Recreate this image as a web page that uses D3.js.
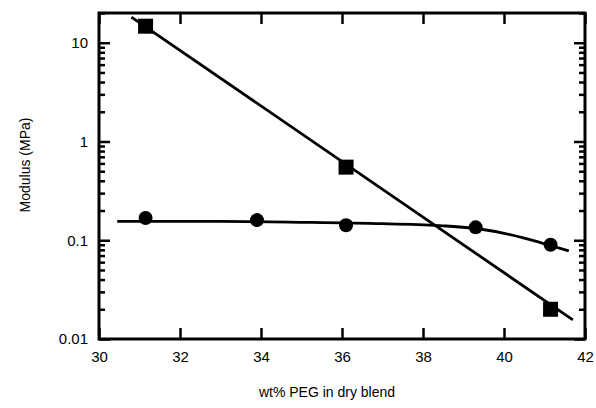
<!DOCTYPE html>
<html>
<head>
<meta charset="utf-8">
<script src="https://cdn.jsdelivr.net/npm/d3@7"></script>
<style>
  body { margin: 0; background: #fff; }
  text { font-family: "Liberation Sans", Arial, sans-serif; fill: #000; }
</style>
</head>
<body>
<div id="chart"></div>
<script>
// measured points
var squareX = [31.15, 36.1, 41.15];
var squareY = [14.7, 0.55, 0.02];
var circleX = [31.15, 33.9, 36.1, 39.3, 41.15];
var circleY = [0.168, 0.16, 0.142, 0.135, 0.09];

// fitted lines as drawn in the figure
var squareFitX = [30.8, 41.7];
var squareFitY = [18.2, 0.0156];
var circleFitX = [30.45, 33, 35, 37, 38.5, 39.4, 41.6];
var circleFitY = [0.155, 0.155, 0.152, 0.147, 0.14, 0.13, 0.078];

var xTicks = [30, 32, 34, 36, 38, 40, 42];
var yTicks = [0.01, 0.1, 1, 10];
var yTickLabels = ['0.01', '0.1', '1', '10'];

var width = 596, height = 408;
var margin = {top: 13, right: 11, bottom: 69, left: 99};
var w = width - margin.left - margin.right;
var h = height - margin.top - margin.bottom;

var svg = d3.select('#chart').append('svg')
    .attr('width', width).attr('height', height);
var g = svg.append('g')
    .attr('transform', 'translate(' + margin.left + ',' + margin.top + ')');

var x = d3.scaleLinear().domain([30, 42]).range([0, w]);
var y = d3.scaleLog().domain([0.01, 20]).range([h, 0]);

// minor log ticks
var minor = [];
[0.01, 0.1, 1, 10].forEach(function (d) {
    for (var k = 2; k <= 9; k++) {
        if (d * k <= 20) minor.push(d * k);
    }
});

function styleAxis(ag) {
    ag.select('.domain').remove();
    ag.selectAll('line').attr('stroke', '#000').attr('stroke-width', 2.5);
    ag.selectAll('text')
        .style('font-size', '15px')
        .style('font-family', '"Liberation Sans", Arial, sans-serif')
        .attr('fill', '#000');
}

// major ticks, pointing inward on all four sides
styleAxis(g.append('g').attr('transform', 'translate(0,' + h + ')')
    .call(d3.axisBottom(x).tickValues(xTicks).tickFormat(d3.format('d'))
        .tickSizeInner(-11).tickSizeOuter(0).tickPadding(12)));
styleAxis(g.append('g')
    .call(d3.axisTop(x).tickValues(xTicks).tickFormat('')
        .tickSizeInner(-11).tickSizeOuter(0)));
styleAxis(g.append('g')
    .call(d3.axisLeft(y).tickValues(yTicks).tickFormat(function (d, i) { return yTickLabels[i]; })
        .tickSizeInner(-11).tickSizeOuter(0).tickPadding(11)));
styleAxis(g.append('g').attr('transform', 'translate(' + w + ',0)')
    .call(d3.axisRight(y).tickValues(yTicks).tickFormat('')
        .tickSizeInner(-11).tickSizeOuter(0)));

// minor ticks on left and right
styleAxis(g.append('g')
    .call(d3.axisLeft(y).tickValues(minor).tickFormat('').tickSizeInner(-6).tickSizeOuter(0)));
styleAxis(g.append('g').attr('transform', 'translate(' + w + ',0)')
    .call(d3.axisRight(y).tickValues(minor).tickFormat('').tickSizeInner(-6).tickSizeOuter(0)));

// frame
g.append('rect')
    .attr('width', w).attr('height', h)
    .attr('fill', 'none').attr('stroke', '#000').attr('stroke-width', 3);

// fit lines
var line = d3.line().x(function (d) { return x(d[0]); }).y(function (d) { return y(d[1]); });
g.append('path')
    .datum(squareFitX.map(function (d, i) { return [d, squareFitY[i]]; }))
    .attr('d', line)
    .attr('fill', 'none').attr('stroke', '#000').attr('stroke-width', 2.8);
g.append('path')
    .datum(circleFitX.map(function (d, i) { return [d, circleFitY[i]]; }))
    .attr('d', line.curve(d3.curveMonotoneX))
    .attr('fill', 'none').attr('stroke', '#000').attr('stroke-width', 2.8);

// markers
var sq = 15;
g.selectAll('rect.sq')
    .data(squareX.map(function (d, i) { return [d, squareY[i]]; }))
    .enter().append('rect')
    .attr('class', 'sq')
    .attr('x', function (d) { return x(d[0]) - sq / 2; })
    .attr('y', function (d) { return y(d[1]) - sq / 2; })
    .attr('width', sq).attr('height', sq)
    .attr('fill', '#000');
g.selectAll('circle.pt')
    .data(circleX.map(function (d, i) { return [d, circleY[i]]; }))
    .enter().append('circle')
    .attr('class', 'pt')
    .attr('cx', function (d) { return x(d[0]); })
    .attr('cy', function (d) { return y(d[1]); })
    .attr('r', 7)
    .attr('fill', '#000');

// axis titles
svg.append('text')
    .attr('x', 327).attr('y', 397)
    .attr('text-anchor', 'middle')
    .style('font-size', '14px')
    .text('wt% PEG in dry blend');
svg.append('text')
    .attr('transform', 'translate(30,165) rotate(-90)')
    .attr('text-anchor', 'middle')
    .style('font-size', '14px')
    .text('Modulus (MPa)');
</script>
</body>
</html>
